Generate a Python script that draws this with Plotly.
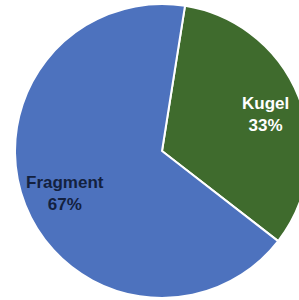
import plotly.graph_objects as go

labels = ["Kugel", "Fragment"]
values = [33, 67]
colors = ["#3F6B2D", "#4D72BE"]
text_colors = ["#FFFFFF", "#13213F"]

W, H = 320, 300
cx, cy, r = 162, 151, 147
label_pos = [(265, 114), (65, 194)]

fig = go.Figure(go.Pie(
    labels=labels,
    values=values,
    sort=False,
    direction="clockwise",
    rotation=9,
    marker=dict(colors=colors, line=dict(color="white", width=2)),
    textinfo="none",
    hoverinfo="skip",
    showlegend=False,
    domain=dict(x=[(cx - r) / W, (cx + r) / W], y=[(H - cy - r) / H, (H - cy + r) / H]),
))

total = sum(values)
for lab, v, col, (px, py) in zip(labels, values, text_colors, label_pos):
    fig.add_annotation(
        x=px / W, y=1 - py / H, xref="paper", yref="paper",
        text=f"<b>{lab}</b><br><b>{round(100 * v / total)}%</b>",
        showarrow=False, xanchor="center", yanchor="middle",
        font=dict(family="Liberation Sans, Arial, sans-serif", size=17, color=col),
    )

fig.update_layout(
    width=W, height=H,
    margin=dict(l=0, r=0, t=0, b=0),
    paper_bgcolor="white",
    plot_bgcolor="white",
)

fig.write_html("out.html", config={"displayModeBar": False},
               post_script="document.body.style.overflow='hidden';document.body.style.margin='0';")
